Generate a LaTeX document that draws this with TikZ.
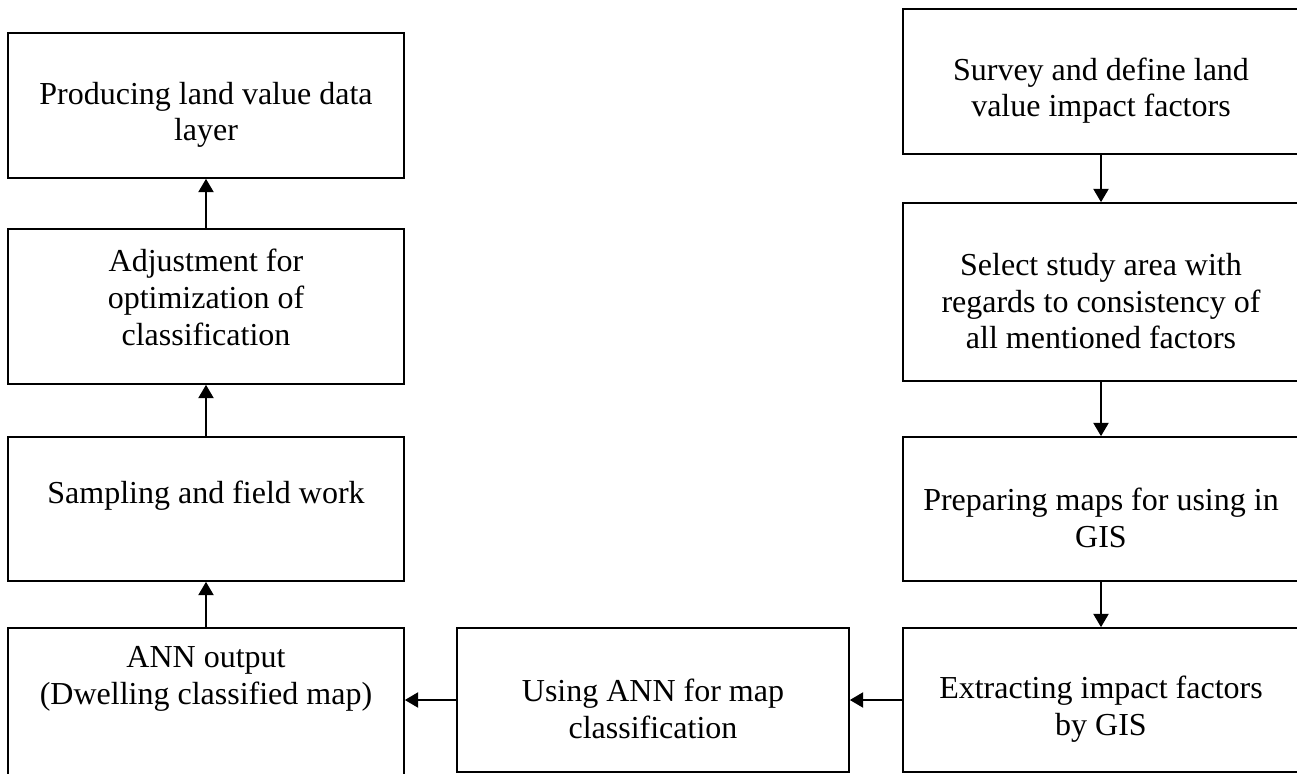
\documentclass[tikz,border=0pt]{standalone}
\usepackage{fontspec}
\setmainfont{Liberation Serif}
\usetikzlibrary{arrows.meta}

\newcommand{\padtop}{\rule{0pt}{30.5pt}}
\newcommand{\padbot}[1]{\rule[-#1]{0pt}{0pt}}

\begin{document}
\begin{tikzpicture}[x=0.75pt, y=-0.75pt,
    box/.style={draw, line width=1.3pt, align=center, inner sep=0pt,
        minimum width=297pt, font=\fontsize{24pt}{27.5pt}\selectfont},
    arr/.style={-{Triangle[length=10pt,width=11.5pt]}, line width=1pt}]
    \clip (0,0) rectangle (1297,774);

    \node[box, minimum height=129pt] (annout) at (206,714) {ANN output\\(Dwelling classified map)\padbot{58pt}};
    \node[box, minimum height=108pt] (sampling) at (206,509) {Sampling and field work\padbot{25pt}};
    \node[box, minimum height=116.25pt] (adjust) at (206,306.5) {Adjustment for\\optimization of\\classification\padbot{14pt}};
    \node[box, minimum height=108.75pt] (landvalue) at (206,105.5) {\padtop Producing land value data\\layer};

    \node[box, minimum height=108.75pt] (survey) at (1101,81.5) {\padtop Survey and define land\\value impact factors};
    \node[box, minimum height=133.5pt] (studyarea) at (1101,292) {\padtop Select study area with\\regards to consistency of\\all mentioned factors};
    \node[box, minimum height=108pt] (prepmaps) at (1101,509) {\padtop Preparing maps for using in\\GIS};
    \node[box, minimum height=108pt] (extract) at (1101,700) {\padtop Extracting impact factors\\by GIS};
    \node[box, minimum height=108pt, minimum width=294pt] (usingann) at (653,700) {\padtop Using ANN for map\\classification};

    \draw[arr] (survey.south) -- (studyarea.north);
    \draw[arr] (studyarea.south) -- (prepmaps.north);
    \draw[arr] (prepmaps.south) -- (extract.north);
    \draw[arr] (extract.west) -- (usingann.east);
    \draw[arr] (usingann.west) -- (usingann.west -| annout.east);
    \draw[arr] (annout.north) -- (sampling.south);
    \draw[arr] (sampling.north) -- (adjust.south);
    \draw[arr] (adjust.north) -- (landvalue.south);
\end{tikzpicture}
\end{document}
